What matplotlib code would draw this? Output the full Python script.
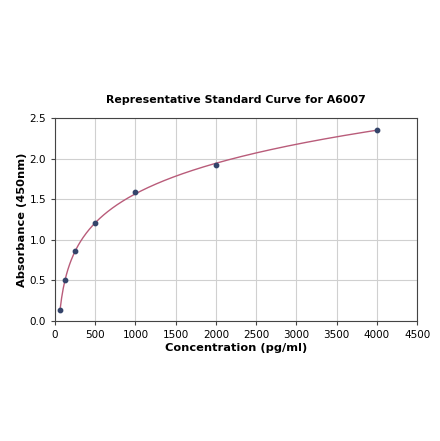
import numpy as np
import matplotlib
matplotlib.use("Agg")
import matplotlib.pyplot as plt

# standard points
conc = [62.5, 125, 250, 500, 1000, 2000, 4000]
absorb = [0.14, 0.50, 0.86, 1.21, 1.59, 1.92, 2.36]

title = "Representative Standard Curve for A6007"
xlabel = "Concentration (pg/ml)"
ylabel = "Absorbance (450nm)"

# smooth fit through the standards (cubic in log concentration)
lx = np.log(conc)
coef = np.polyfit(lx, absorb, 3)
xfit = np.linspace(conc[0], conc[-1], 400)
yfit = np.polyval(coef, np.log(xfit))

fig = plt.figure(figsize=(4.40, 4.41), dpi=100)
ax = fig.add_axes([0.125, 0.272, 0.823, 0.460])

ax.plot(xfit, yfit, color="#b95c7a", linewidth=1.0, zorder=2)
ax.scatter(conc, absorb, s=10, color="#34446a", zorder=3)

ax.set_xlim(0, 4500)
ax.set_ylim(0, 2.5)
ax.set_xticks(np.arange(0, 4501, 500))
ax.set_yticks(np.arange(0, 2.51, 0.5))
ax.grid(True, color="#d0d0d0", linewidth=0.8)
ax.set_axisbelow(True)
ax.tick_params(labelsize=7.5, length=3, color="#444444")
for s in ax.spines.values():
    s.set_color("#444444")
    s.set_linewidth(0.8)

ax.set_title(title, fontsize=7.9, fontweight="bold", pad=11)
ax.set_xlabel(xlabel, fontsize=8.2, fontweight="bold", labelpad=2)
ax.set_ylabel(ylabel, fontsize=8.2, fontweight="bold", labelpad=2)

fig.savefig("out.png", dpi=100)
